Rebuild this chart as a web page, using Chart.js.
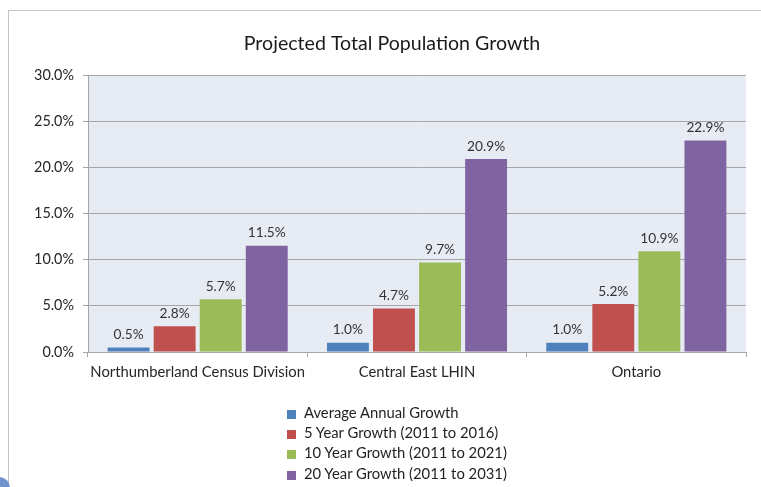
<!DOCTYPE html>
<html>
<head>
<meta charset="utf-8">
<script src="https://cdn.jsdelivr.net/npm/chart.js@4.4.1/dist/chart.umd.min.js"></script>
<style>
  body { margin: 0; background: #fff; font-family: Lato, sans-serif; }
  #wrap { position: relative; width: 761px; height: 487px; overflow: hidden; }
  #frame { position: absolute; left: 8px; top: 10px; width: 800px; height: 600px;
           border-left: 1px solid #c4c4c4; border-top: 1px solid #c4c4c4; }
  #blob { position: absolute; left: -12px; top: 477px; width: 22px; height: 22px;
          border-radius: 50%; background: #6f93cc; }
  canvas { position: absolute; left: 0; top: 0; }
  #legend { position: absolute; left: 287px; top: 402px; font-size: 14.8px; color: #1f1f1f; }
  #legend div { height: 20.2px; line-height: 20px; white-space: nowrap; }
  #legend span { display: inline-block; width: 9px; height: 9px; margin-right: 8px; vertical-align: -1px; }
</style>
</head>
<body>
<div id="wrap">
  <div id="frame"></div>
  <div id="blob"></div>
  <canvas id="chart" width="761" height="487"></canvas>
  <div id="legend"></div>
</div>
<script>
const categories = ['Northumberland Census Division', 'Central East LHIN', 'Ontario'];
const seriesNames = [
    'Average Annual Growth',
    '5 Year Growth (2011 to 2016)',
    '10 Year Growth (2011 to 2021)',
    '20 Year Growth (2011 to 2031)'
];
const avgAnnual = [0.5, 1.0, 1.0];
const growth5 = [2.8, 4.7, 5.2];
const growth10 = [5.7, 9.7, 10.9];
const growth20 = [11.5, 20.9, 22.9];
const colors = ['#4f81bd', '#c0504d', '#9bbb59', '#8064a2'];

const values = [avgAnnual, growth5, growth10, growth20];

const plotBackground = {
    id: 'plotBackground',
    beforeDraw(chart) {
        const a = chart.chartArea;
        const ctx = chart.ctx;
        ctx.save();
        ctx.fillStyle = '#e7ebf3';
        ctx.fillRect(a.left, a.top, a.right - a.left, a.bottom - a.top);
        ctx.restore();
    }
};

// nudge the title a bit right, like in the original
const titleShift = {
    id: 'titleShift',
    afterLayout(chart) {
        if (chart.titleBlock) chart.titleBlock.left += 28;
    }
};

const valueLabels = {
    id: 'valueLabels',
    afterDatasetsDraw(chart) {
        const ctx = chart.ctx;
        ctx.save();
        ctx.font = '13.7px Lato';
        ctx.fillStyle = '#333';
        ctx.textAlign = 'center';
        ctx.textBaseline = 'bottom';
        chart.data.datasets.forEach((ds, i) => {
            chart.getDatasetMeta(i).data.forEach((bar, j) => {
                ctx.fillText(ds.data[j].toFixed(1) + '%', bar.x, bar.y - 6);
            });
        });
        ctx.restore();
    }
};

const datasets = [];
for (let i = 0; i < seriesNames.length; i++) {
    datasets.push({
        label: seriesNames[i],
        data: values[i],
        backgroundColor: colors[i],
        borderWidth: 0,
        categoryPercentage: 0.84,
        barPercentage: 0.91
    });
}

const chart = new Chart(document.getElementById('chart'), {
    type: 'bar',
    data: { labels: categories, datasets },
    options: {
        responsive: false,
        animation: false,
        layout: { padding: { left: 10, right: 15, top: 0, bottom: 105 } },
        plugins: {
            legend: { display: false },
            tooltip: { enabled: false },
            title: {
                display: true,
                text: 'Projected Total Population Growth',
                color: '#1a1a1a',
                font: { family: 'Lato', size: 19.6, weight: 'normal' },
                padding: { top: 32, bottom: 19.5 }
            }
        },
        scales: {
            x: {
                afterFit: s => { s.height = 30; },
                grid: { display: true, drawOnChartArea: false, tickLength: 5, color: '#a6a6a6' },
                border: { color: '#a6a6a6' },
                ticks: {
                    color: '#262626',
                    font: { family: 'Lato', size: 14.8 },
                    padding: 6,
                    maxRotation: 0,
                    minRotation: 0,
                    autoSkip: false
                }
            },
            y: {
                min: 0,
                max: 30,
                afterFit: s => { s.width = 78; },
                grid: { color: '#a6a6a6', tickLength: 5 },
                border: { color: '#a6a6a6' },
                ticks: {
                    stepSize: 5,
                    color: '#262626',
                    font: { family: 'Lato', size: 14.4 },
                    padding: 9,
                    callback: v => v.toFixed(1) + '%'
                }
            }
        }
    },
    plugins: [plotBackground, titleShift, valueLabels]
});

const legend = document.getElementById('legend');
chart.data.datasets.forEach(ds => {
    const row = document.createElement('div');
    const box = document.createElement('span');
    box.style.background = ds.backgroundColor;
    row.appendChild(box);
    row.appendChild(document.createTextNode(ds.label));
    legend.appendChild(row);
});
</script>
</body>
</html>
